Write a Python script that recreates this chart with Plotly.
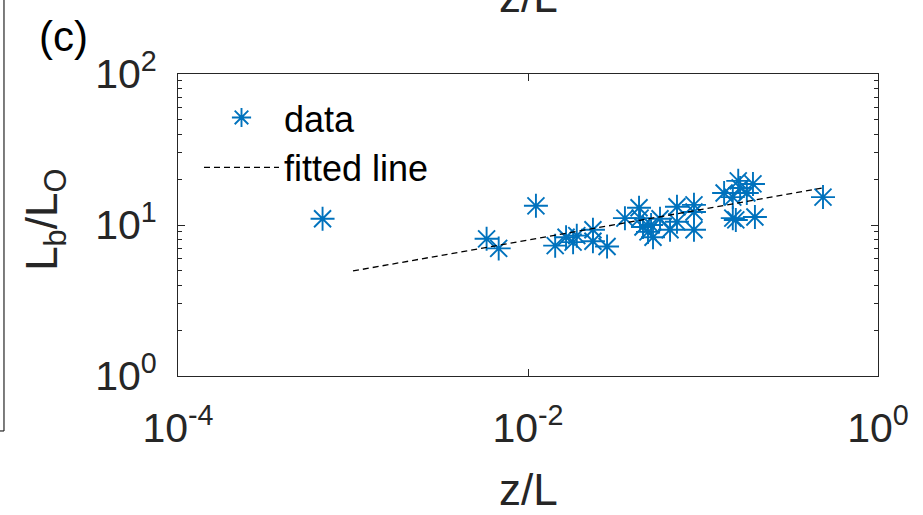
import plotly.graph_objects as go

# ---- data ----
z_over_L = [6.7e-4, 5.8e-3, 6.8e-3, 0.0111, 0.0143, 0.0165, 0.0181, 0.0190,
            0.0235, 0.0235, 0.0283, 0.0358, 0.0431, 0.0437, 0.0454, 0.0485,
            0.0505, 0.0518, 0.0568, 0.0648, 0.0710, 0.0710, 0.0888, 0.0888,
            0.0888, 0.132, 0.148, 0.159, 0.163, 0.178, 0.193, 0.148, 0.154,
            0.198, 0.485]
Lb_over_LO = [11.0, 8.1, 7.0, 13.4, 7.3, 8.3, 7.7, 8.5,
              9.3, 7.8, 7.2, 11.1, 13.0, 11.1, 9.7, 9.0,
              10.0, 8.3, 11.0, 9.3, 13.2, 10.5, 13.6, 12.2,
              9.3, 16.3, 15.3, 19.6, 17.6, 16.3, 18.7, 11.1, 10.8,
              11.3, 15.3]
fit_z = [0.001, 0.485]
fit_Lb = [4.96, 17.6]

x_tickvals = [1e-4, 1e-2, 1]
x_ticktext = ["10<sup>-4</sup>", "10<sup>-2</sup>", "10<sup>0</sup>"]
y_tickvals = [1, 10, 100]
y_ticktext = ["10<sup>0</sup>", "10<sup>1</sup>", "10<sup>2</sup>"]

FONT = "Liberation Sans, Arial, Helvetica, sans-serif"
AX = "#262626"
BLUE = "#0072BD"

fig = go.Figure()
fig.add_trace(go.Scatter(
    x=z_over_L, y=Lb_over_LO, mode="markers", name="data",
    marker=dict(symbol="asterisk-open", size=20, color=BLUE,
                line=dict(color=BLUE, width=1.9)),
))
fig.add_trace(go.Scatter(
    x=fit_z, y=fit_Lb, mode="lines", name="fitted line",
    line=dict(color="black", width=1.3, dash="6px,4px"),
))

axis_common = dict(
    type="log", showgrid=False, zeroline=False, showline=True,
    linecolor=AX, linewidth=1, mirror="ticks", ticks="inside",
    tickcolor=AX, tickfont=dict(family=FONT, size=41, color=AX),
)
fig.update_xaxes(range=[-4, 0], tickvals=x_tickvals, ticktext=x_ticktext,
                 ticklen=7, ticklabelstandoff=16, **axis_common)
fig.update_yaxes(range=[0, 2], tickvals=y_tickvals, ticktext=y_ticktext,
                 ticklen=7, ticklabelstandoff=12,
                 minor=dict(ticks="inside", ticklen=4, tickcolor=AX,
                            dtick="D1", showgrid=False),
                 **axis_common)

fig.update_layout(
    width=923, height=515,
    margin=dict(l=178, r=45, t=74, b=139),
    plot_bgcolor="white", paper_bgcolor="white",
    font=dict(family=FONT, color=AX),
    showlegend=True,
    legend=dict(x=0.03, y=0.955, xanchor="left", yanchor="top",
                bgcolor="rgba(0,0,0,0)", borderwidth=0,
                font=dict(family=FONT, size=36, color="black"),
                itemwidth=75, tracegroupgap=0),
    annotations=[
        dict(text="z/L", x=0.5, y=-0.377, xref="paper", yref="paper",
             showarrow=False, font=dict(family=FONT, size=44, color=AX),
             xanchor="center", yanchor="middle"),
        dict(text="L<sub>b</sub>/L<sub>O</sub>", x=-0.19, y=0.517,
             xref="paper", yref="paper", textangle=-90, showarrow=False,
             font=dict(family=FONT, size=44, color=AX),
             xanchor="center", yanchor="middle"),
        dict(text="(c)", x=-0.163, y=1.125, xref="paper", yref="paper",
             showarrow=False, font=dict(family=FONT, size=42, color="black"),
             xanchor="center", yanchor="middle"),
        dict(text="z/L", x=0.5, y=1.258, xref="paper", yref="paper",
             showarrow=False, font=dict(family=FONT, size=44, color=AX),
             xanchor="center", yanchor="middle"),
    ],
    shapes=[
        dict(type="line", xref="paper", yref="paper",
             x0=-0.2486, x1=-0.2486, y0=1.3, y1=-0.182,
             line=dict(color=AX, width=1.2)),
        dict(type="line", xref="paper", yref="paper",
             x0=-0.2486, x1=-0.26, y0=-0.182, y1=-0.182,
             line=dict(color=AX, width=1.2)),
    ],
)

fig.write_html("out.html")
